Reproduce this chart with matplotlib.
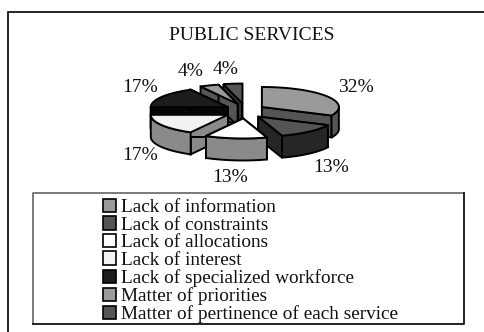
"""Exploded 3D-style pie of reasons cited for public services."""

import matplotlib

matplotlib.use("Agg")

import matplotlib.pyplot as plt
import numpy as np
from matplotlib.patches import Patch, Polygon, Rectangle

TITLE = "PUBLIC SERVICES"
CATEGORIES = [
    "Lack of information",
    "Lack of constraints",
    "Lack of allocations",
    "Lack of interest",
    "Lack of specialized workforce",
    "Matter of priorities",
    "Matter of pertinence of each service",
]
SHARES = [32, 13, 13, 17, 17, 4, 4]

TOP_COLORS = ["#9a9a9a", "#555555", "#ffffff", "#f2f2f2", "#1c1c1c", "#9a9a9a", "#555555"]
WALL_COLORS = ["#555555", "#262626", "#8a8a8a", "#8a8a8a", "#050505", "#555555", "#333333"]
LABEL_X = [356, 331, 230, 140, 140, 191, 226]
LABEL_Y = [87, 168, 177, 156, 88, 71, 70]

CENTER_X, CENTER_Y = 245, 111
RADIUS_X, RADIUS_Y = 77, 20
EXPLODE_X, EXPLODE_Y = 20, 7.5
DEPTH = 22
LINE_WIDTH = 1.4


def slice_outline(start, end, apex_x, apex_y):
    """Return the rim points of one slice, running clockwise."""
    angles = np.radians(np.linspace(start, end, 40))
    rim_x = apex_x + RADIUS_X * np.cos(angles)
    rim_y = apex_y - RADIUS_Y * np.sin(angles)
    return np.column_stack([rim_x, rim_y])


def draw_slice(axis, start, end, top_color, wall_color, order):
    middle = np.radians((start + end) / 2)
    apex_x = CENTER_X + EXPLODE_X * np.cos(middle)
    apex_y = CENTER_Y - EXPLODE_Y * np.sin(middle)
    rim = slice_outline(start, end, apex_x, apex_y)
    apex = np.array([apex_x, apex_y])
    drop = np.array([0, DEPTH])
    style = {"edgecolor": "black", "linewidth": LINE_WIDTH, "joinstyle": "miter"}

    # the two cut faces first, then the curved wall, then the lid
    for edge in (rim[0], rim[-1]):
        face = [apex, edge, edge + drop, apex + drop]
        axis.add_patch(Polygon(face, facecolor=wall_color, zorder=order, **style))
    visible = rim[np.sin(np.radians(np.linspace(start, end, 40))) <= 0.05]
    if len(visible) > 1:
        wall = np.vstack([visible, (visible + drop)[::-1]])
        axis.add_patch(Polygon(wall, facecolor=wall_color, zorder=order, **style))
    lid = np.vstack([apex, rim])
    axis.add_patch(Polygon(lid, facecolor=top_color, zorder=order + 0.5, **style))


plt.rcParams["font.family"] = ["Liberation Serif", "DejaVu Serif"]

figure = plt.figure(figsize=(4.85, 3.32), dpi=100)
axis = figure.add_axes([0, 0, 1, 1])
axis.set_xlim(0, 485)
axis.set_ylim(332, 0)
axis.axis("off")

# outer chart frame, only its top and left edges fall on the canvas
axis.add_patch(Rectangle((8.5, 11.5), 500, 340, facecolor="white", edgecolor="black", linewidth=1.2))

axis.text(252, 35, TITLE, ha="center", va="center", fontsize=14, color="#111111")

sweep = np.array(SHARES) / sum(SHARES) * 360
ends = 90 - np.cumsum(sweep)
starts = ends + sweep

# paint back slices first so the nearer ones overlap them
depth_order = np.argsort(-np.sin(np.radians((starts + ends) / 2)))
for order, index in enumerate(depth_order):
    draw_slice(axis, starts[index], ends[index], TOP_COLORS[index], WALL_COLORS[index], 2 + order)

for share, x, y in zip(SHARES, LABEL_X, LABEL_Y):
    axis.text(x, y, f"{share}%", ha="center", va="center", fontsize=14, color="#111111", zorder=20)

# legend box: grey top and left edges, black bottom and right edges
axis.plot([33, 33, 464], [324, 193, 193], color="#707070", linewidth=1.3, zorder=21)
axis.plot([33, 464, 464], [324, 324, 193], color="#111111", linewidth=1.3, zorder=21)

handles = [Patch(facecolor=color, edgecolor="black", linewidth=1.2) for color in TOP_COLORS]
axis.legend(
    handles,
    CATEGORIES,
    loc="upper left",
    bbox_to_anchor=(100 / 485, 1 - 196 / 332),
    frameon=False,
    fontsize=13.9,
    labelspacing=0.01,
    handlelength=0.67,
    handleheight=0.67,
    handletextpad=0.25,
    borderpad=0.15,
    borderaxespad=0,
    labelcolor="#111111",
)

figure.savefig("out.png", dpi=100)
plt.close(figure)
